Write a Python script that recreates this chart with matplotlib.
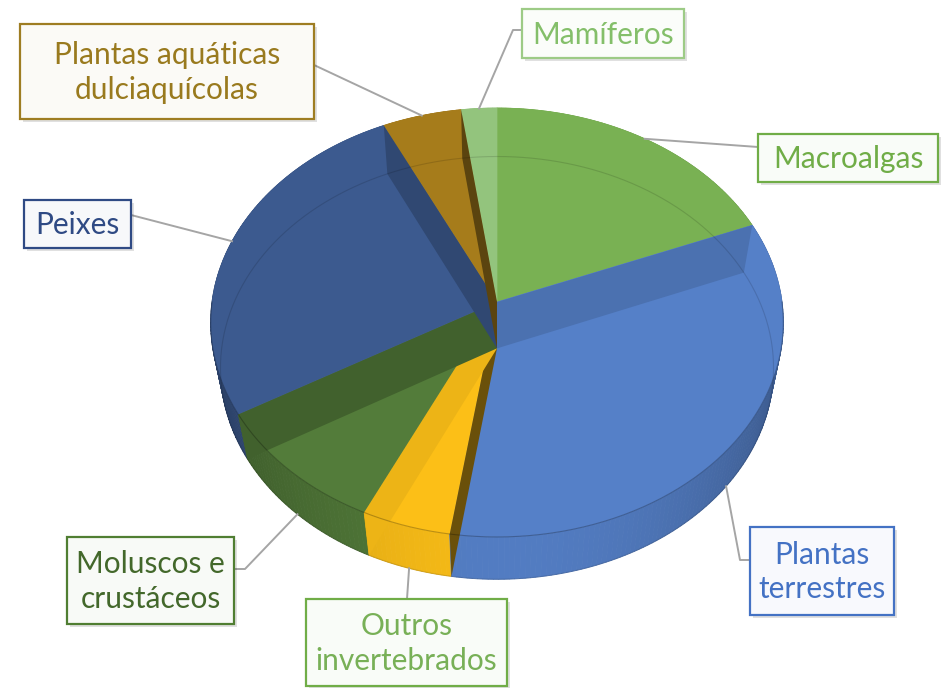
import numpy as np
import matplotlib
matplotlib.use('Agg')
import matplotlib.pyplot as plt
from matplotlib.patches import Polygon, Rectangle
from matplotlib.colors import to_rgb

plt.rcParams['font.family'] = ['Lato', 'DejaVu Sans']

# grupos, a partir das 12h no sentido horário (valores em %)
labels = ['Macroalgas', 'Plantas\nterrestres', 'Outros\ninvertebrados', 'Moluscos e\ncrustáceos',
          'Peixes', 'Plantas aquáticas\ndulciaquícolas', 'Mamíferos']
values = [18.9, 33.5, 4.6, 9.6, 26.3, 4.9, 2.2]
slice_colors = ['#79b153', '#5580c8', '#fcbf17', '#537c3a', '#3c5a8f', '#a67c1b', '#93c47d']
text_colors = ['#70ad47', '#4472c4', '#78b057', '#43682b', '#2f4a84', '#997a1e', '#84bf6a']
box_colors = ['#70ad47', '#4472c4', '#70ad47', '#507e32', '#2f4a84', '#9e7d22', '#9dcb86']

# caixas das etiquetas (x, y, largura, altura) e pontos da linha de chamada
boxes = [(758, 134, 180, 48), (750, 527, 144, 88), (306, 599, 201, 87), (67, 537, 167, 87),
         (24, 200, 107, 48), (20, 24, 294, 95), (522, 9, 162, 49)]
leaders = [[(758, 147)], [(740, 560), (750, 560)], [(407, 599)], [(245, 569), (234, 569)],
           [(131, 215)], [(314, 65)], [(513, 30), (522, 30)]]

# paredes radiais visíveis: fatia dona e sombreamento (uma por fronteira)
wall_owner = [None, 1, 2, 2, 3, 4, 5]
wall_shade = [1.0, 0.88, 0.42, 0.94, 0.78, 0.80, 0.55]

# perspectiva simples do disco
cx, cy = 497, 302
ra, rb = 285, 212.5
k, m, dz = 0.0956, 0.035, 48


def proj(t, r=1.0, z=0.0):
    t = np.radians(t)
    u = r * np.sin(t)
    v = r * np.cos(t)
    p = 1 / (1 + k * v + m * z)
    return cx + ra * u * p, cy - rb * v * p + dz * z * p


def shade(c, f):
    return tuple(np.clip(np.array(to_rgb(c)) * f, 0, 1))


fig = plt.figure(figsize=(9.46, 6.88), dpi=100)
ax = fig.add_axes([0, 0, 1, 1])
ax.set_xlim(0, 946)
ax.set_ylim(688, 0)
ax.axis('off')

ang = np.cumsum([0] + values) / sum(values) * 360
starts, ends = ang[:-1], ang[1:]

# parede lateral, de trás para a frente
segs = []
for i, (t1, t2) in enumerate(zip(starts, ends)):
    tt = np.linspace(t1, t2, int(t2 - t1) + 2)
    for a0, a1 in zip(tt[:-1], tt[1:]):
        segs.append((np.cos(np.radians((a0 + a1) / 2)), i, a0, a1))
segs.sort(key=lambda s: -s[0])
for c, i, a0, a1 in segs:
    xt, yt = proj(np.array([a0, a1]))
    xb, yb = proj(np.array([a1, a0]), z=1)
    f = 0.97 - 0.27 * np.sin(np.radians((a0 + a1) / 2)) ** 2
    col = shade(slice_colors[i], f)
    ax.add_patch(Polygon(np.c_[np.r_[xt, xb], np.r_[yt, yb]], closed=True,
                         fc=col, ec=col, lw=0.6, zorder=2))

# topo
for i, (t1, t2) in enumerate(zip(starts, ends)):
    tt = np.linspace(t1, t2, 120)
    x, y = proj(tt)
    ax.add_patch(Polygon(np.c_[np.r_[cx, x], np.r_[cy, y]], closed=True,
                         fc=slice_colors[i], ec=slice_colors[i], lw=0.5, zorder=3))

# paredes radiais vistas através do topo
for i, t in enumerate(starts):
    j = wall_owner[i]
    if j is None:
        continue
    xs, ys = [], []
    for r, z in [(0, 0), (1, 0), (1, 1), (0, 1)]:
        x, y = proj(t, r, z)
        xs.append(x)
        ys.append(y)
    ax.add_patch(Polygon(np.c_[xs, ys], closed=True, fc=shade(slice_colors[j], wall_shade[i]),
                         ec='none', zorder=4))

# aresta inferior (transparência) e rebordo da frente
tt = np.linspace(0, 360, 361)
xb, yb = proj(tt, z=1)
ax.plot(xb, yb, color='k', alpha=0.13, lw=0.8, zorder=5)
tt = np.linspace(90, 270, 181)
xt, yt = proj(tt)
ax.plot(xt, yt, color='k', alpha=0.25, lw=0.8, zorder=5)

# etiquetas
for i, lab in enumerate(labels):
    mid = (starts[i] + ends[i]) / 2
    z = 1 if np.cos(np.radians(mid)) < 0 else 0
    x0, y0 = proj(mid, z=z)
    pts = [(x0, y0)] + leaders[i]
    ax.plot([p[0] for p in pts], [p[1] for p in pts], color='#a5a5a5', lw=1.4, zorder=6)
    bx, by, bw, bh = boxes[i]
    ax.add_patch(Rectangle((bx + 3, by + 3), bw, bh, fc='k', ec='none', alpha=0.12, zorder=6))
    fc = tuple(np.array(to_rgb(box_colors[i])) * 0.04 + 0.96)
    ax.add_patch(Rectangle((bx, by), bw, bh, fc=fc, ec=box_colors[i], lw=1.6, zorder=7))
    ax.text(bx + bw / 2, by + bh / 2 + 1, lab, ha='center', va='center', fontsize=21.5,
            color=text_colors[i], linespacing=1.3, zorder=8)

fig.savefig('out.png', dpi=100)
